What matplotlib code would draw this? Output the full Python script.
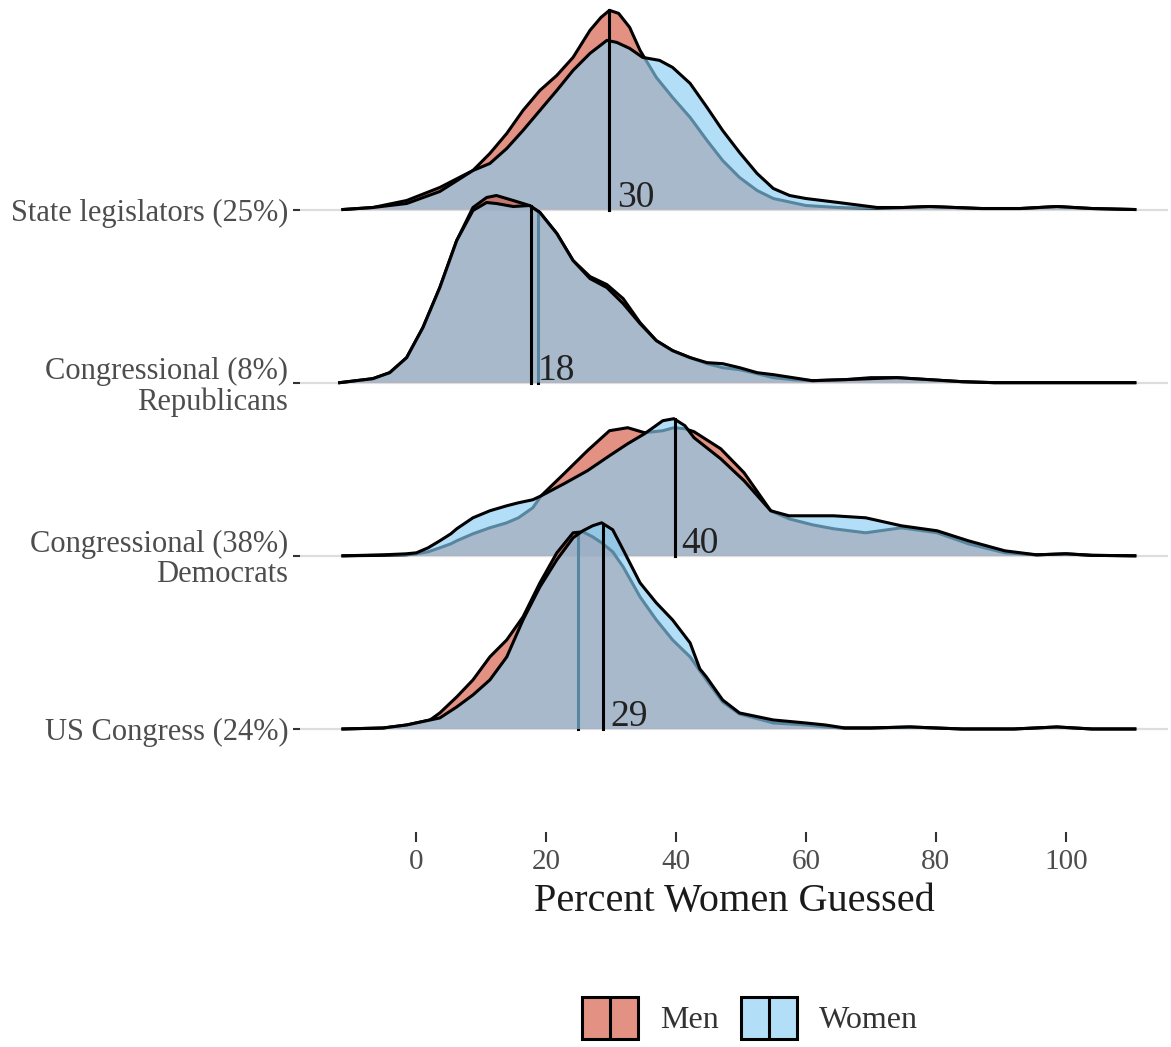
import numpy as np
import matplotlib
matplotlib.use("Agg")
import matplotlib.pyplot as plt
from matplotlib.patches import Patch, Rectangle
from matplotlib.lines import Line2D
from matplotlib.colors import to_rgba
from matplotlib.legend_handler import HandlerBase

plt.rcParams['font.family'] = ['Liberation Serif', 'DejaVu Serif']

# rows from top to bottom
etichete = ["State legislators (25%)", "Congressional (8%)\nRepublicans",
            "Congressional (38%)\nDemocrats", "US Congress (24%)"]
pozitii = [3, 2, 1, 0]

# density curves (height in row units x 173)
x_stat_m = [-11.2, -6.6, -1.4, 3.7, 8.8, 11.4, 14, 16.5, 19.1, 21.7, 24.2, 26.8, 28.5, 29.8,
            31.2, 32.9, 34.5, 37, 39.5, 42.2, 44.8, 47.2, 49.8, 52.5, 55, 60, 65, 71, 75, 79,
            83, 87, 93, 98.6, 104, 110.6]
h_stat_m = [0, 2, 9, 22, 39, 56, 76, 99, 119, 134, 152, 179, 192, 199,
            196, 182, 159, 132, 112, 92, 69, 49, 32, 19, 11, 4, 2, 1, 2, 3,
            2, 1, 1, 3, 1, 0]
x_stat_w = [-11.2, -6.6, -1.4, 3.7, 8.8, 11.4, 14, 16.5, 19.1, 21.7, 24.2, 26.8, 29.4, 30.9,
            32.9, 34.9, 37.5, 39.5, 42.2, 44.8, 47.2, 49.8, 52.5, 55, 57.5, 60, 65, 71, 75,
            79, 83, 87, 93, 98.6, 104, 110.6]
h_stat_w = [0, 2, 6, 18, 39, 46, 61, 79, 99, 119, 139, 156, 169, 167,
            161, 152, 149, 142, 126, 102, 79, 57, 36, 21, 14, 11, 7, 2, 2,
            3, 2, 1, 1, 3, 1, 0]

x_rep = [-11.7, -6.6, -4, -1.4, 1.1, 3.7, 6.3, 8.8, 10.9, 12.4, 15, 17.5, 19.1, 21.7, 24.2,
         26.8, 29.4, 31.9, 34.5, 37, 39.5, 42.2, 44.8, 47.2, 49.8, 52.5, 55, 58, 61, 66, 70,
         74, 79, 84, 89, 100, 110.6]
h_rep_m = [0, 4, 10, 25, 55, 95, 142, 175, 185, 187, 182, 177, 170, 149, 122,
           106, 98, 84, 60, 42, 32, 25, 19, 15, 13, 9, 5, 3, 2, 3, 5,
           5, 3, 1, 0, 0, 0]
h_rep_w = [0, 4, 10, 25, 55, 95, 142, 172, 180, 179, 176, 177, 170, 149, 122,
           104, 95, 79, 59, 42, 32, 25, 20, 19, 15, 10, 8, 5, 2, 3, 4,
           5, 3, 1, 0, 0, 0]

x_dem = [-11.2, -5, -1.5, 0.1, 1.9, 3.7, 5.4, 6.3, 8.8, 11.4, 14, 15.8, 18, 19.3, 22.8, 26.4,
         29.8, 32.6, 35.2, 38, 39.7, 41.4, 42.8, 46.9, 50.5, 54.6, 57.4, 61, 64.3, 69.2, 74.7,
         80.2, 85, 90.6, 95.5, 100, 104, 110.6]
h_dem_m = [0, 0.5, 1, 2, 4, 8, 12, 15, 22, 28, 33, 38, 48, 60, 82, 105,
           125, 128, 123, 125, 128, 127, 124, 107, 83, 45, 37, 31, 27, 23, 28,
           23, 12, 3, 1, 2, 0.5, 0]
h_dem_w = [0, 1, 2, 3, 8, 15, 22, 27, 38, 45, 50, 53, 56, 60, 72, 85,
           100, 112, 122, 135, 137, 130, 118, 97, 75, 45, 40, 40, 40, 38, 30,
           25, 15, 5, 1, 2, 0.5, 0]

x_us = [-11.2, -5, -1.4, 2.2, 3.7, 6.3, 8.8, 11.4, 14, 16.5, 19.1, 21.7, 24.2, 25.7, 27.2,
        28.6, 30.3, 31.9, 34.5, 37, 39.5, 42.2, 43.7, 44.7, 47.2, 49.8, 55, 60, 63, 66, 70,
        76, 84, 92, 98.6, 104, 110.6]
h_us_m = [0, 1, 4, 9, 16, 32, 49, 72, 89, 112, 146, 176, 196, 197, 192,
          186, 177, 162, 132, 109, 89, 72, 58, 49, 27, 15, 6, 4, 2, 1, 1,
          2, 0, 0, 2, 0, 0]
h_us_w = [0, 1, 4, 9, 11, 22, 34, 49, 72, 109, 142, 169, 191, 198, 203,
          206, 199, 179, 146, 126, 109, 86, 60, 52, 29, 16, 9, 6, 4, 1, 1,
          2, 0, 0, 2, 0, 0]

curbe_barbati = [(x_stat_m, h_stat_m), (x_rep, h_rep_m), (x_dem, h_dem_m), (x_us, h_us_m)]
curbe_femei = [(x_stat_w, h_stat_w), (x_rep, h_rep_w), (x_dem, h_dem_w), (x_us, h_us_w)]

mediane_barbati = [29.8, 18.8, 39.8, 24.9]
mediane_femei = [29.8, 17.7, 39.8, 28.8]
texte_mediane = ["30", "18", "40", "29"]

pas_rand = 173.0
culoare_m = "#D4563F"
culoare_f = "#89CFF4"
alfa = 0.65


# cheie de legenda: patrat colorat cu linia medianei in mijloc
class HandlerCutie(HandlerBase):
    def create_artists(self, legend, orig_handle, xdescent, ydescent, width, height,
                       fontsize, trans):
        r = Rectangle((-xdescent, -ydescent), width, height,
                      facecolor=orig_handle.get_facecolor(), edgecolor="black", lw=2.2,
                      transform=trans)
        xm = -xdescent + width / 2
        l = Line2D([xm, xm], [-ydescent + 0.08 * height, -ydescent + 0.92 * height],
                   color="black", lw=2.2, transform=trans)
        return [r, l]


fig = plt.figure(figsize=(11.71, 10.47), dpi=100)
ax = fig.add_axes([300 / 1171, 1 - 832 / 1047, 868 / 1171, 832 / 1047])
ax.set_xlim(-17.8, 115.7)
ax.set_ylim(-0.595, 4.21)

for y0 in pozitii:
    ax.axhline(y0, color="#DDDDDD", lw=1.6, zorder=0)

for i, y0 in enumerate(pozitii):
    z = 2 + i * 10
    for j, (curba, med, culoare) in enumerate([(curbe_barbati[i], mediane_barbati[i], culoare_m),
                                               (curbe_femei[i], mediane_femei[i], culoare_f)]):
        xs = np.array(curba[0])
        hs = np.array(curba[1]) / pas_rand
        ax.fill_between(xs, y0, y0 + hs, facecolor=culoare, alpha=alfa, lw=0, zorder=z + 2 * j)
        ax.plot(xs, y0 + hs, color="black", lw=2.2, zorder=z + 2 * j + 1,
                solid_joinstyle="round")
        hm = np.interp(med, xs, hs)
        ax.plot([med, med], [y0, y0 + hm], color="black", lw=2.2, zorder=z + 2 * j + 1)
    ax.text(mediane_femei[i] + 1.1, y0 + 3 / pas_rand, texte_mediane[i], fontsize=27,
            color="#222222", ha="left", va="baseline", zorder=100)

for s in ax.spines.values():
    s.set_visible(False)

ax.set_yticks(pozitii)
ax.set_yticklabels(etichete, fontsize=22, color="#4D4D4D", linespacing=1.05)
ax.set_xticks([0, 20, 40, 60, 80, 100])
ax.set_xticklabels(["0", "20", "40", "60", "80", "100"], fontsize=21, color="#4D4D4D")
ax.tick_params(axis="y", length=5, width=1.5, color="#333333", pad=3.5)
ax.tick_params(axis="x", length=7, width=1.5, color="#333333", pad=5)
ax.set_xlabel("Percent Women Guessed", fontsize=29, color="#1A1A1A", labelpad=6)

maner_m = Patch(facecolor=to_rgba(culoare_m, alfa))
maner_f = Patch(facecolor=to_rgba(culoare_f, alfa))
fig.legend([maner_m, maner_f], ["Men", "Women"], loc="center",
           bbox_to_anchor=(750 / 1171, 1 - 1018 / 1047), ncol=2, frameon=False,
           fontsize=23, handlelength=1.75, handleheight=1.65, handletextpad=0.7,
           columnspacing=0.7, handler_map={Patch: HandlerCutie()},
           labelcolor="#333333")

fig.savefig("out.png", dpi=100)
